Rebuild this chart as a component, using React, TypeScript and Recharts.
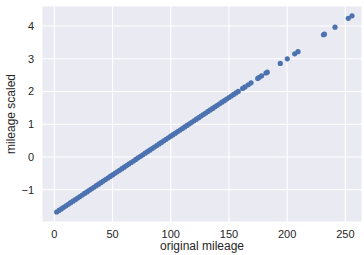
import React from 'react';
import { ScatterChart, Scatter, XAxis, YAxis, CartesianGrid } from 'recharts';

const originalMileage = [
  2, 4, 6, 8, 10, 12, 14, 16, 18, 20, 22, 24, 26, 28, 30, 32, 34, 36, 38, 40,
  42, 44, 46, 48, 50, 52, 54, 56, 58, 60, 62, 64, 66, 68, 70, 72, 74, 76, 78, 80,
  82, 84, 86, 88, 90, 92, 94, 96, 98, 100, 102, 104, 106, 108, 110, 112, 114, 116, 118, 120,
  122, 124, 126, 128, 130, 132, 134, 136, 138, 140, 142, 144, 146, 148, 150, 152, 154, 156, 158,
  161.8, 163.8, 166.6, 169.0, 174.7, 176.1, 178.1, 181.8, 182.9, 194.1, 200.1, 206.5, 209.3,
  231.2, 232.0, 241.1, 252.5, 255.7,
];

const scaledMileage = [
  -1.680, -1.633, -1.585, -1.538, -1.491, -1.444, -1.396, -1.349, -1.302, -1.255,
  -1.208, -1.160, -1.113, -1.066, -1.019, -0.971, -0.924, -0.877, -0.830, -0.783,
  -0.735, -0.688, -0.641, -0.594, -0.547, -0.499, -0.452, -0.405, -0.358, -0.310,
  -0.263, -0.216, -0.169, -0.122, -0.074, -0.027, 0.020, 0.067, 0.115, 0.162,
  0.209, 0.256, 0.303, 0.351, 0.398, 0.445, 0.492, 0.540, 0.587, 0.634,
  0.681, 0.728, 0.776, 0.823, 0.870, 0.917, 0.965, 1.012, 1.059, 1.106,
  1.153, 1.201, 1.248, 1.295, 1.342, 1.390, 1.437, 1.484, 1.531, 1.578,
  1.626, 1.673, 1.720, 1.767, 1.815, 1.862, 1.909, 1.956, 2.003,
  2.093, 2.140, 2.206, 2.263, 2.398, 2.431, 2.478, 2.565, 2.591, 2.856, 2.997, 3.149, 3.215,
  3.732, 3.751, 3.965, 4.235, 4.310,
];

const xTicks = [0, 50, 100, 150, 200, 250];
const yTicks = [-1, 0, 1, 2, 3, 4];
const xLabel = 'original mileage';
const yLabel = 'mileage scaled';

const data = originalMileage.map((x, i) => ({ x, y: scaledMileage[i] }));

const FONT = '"Liberation Sans", Arial, sans-serif';
const TEXT = '#262626';

const fmt = (v: number) => String(v).replace('-', '\u2212');

const Dot = (props: any) => {
  const { cx, cy } = props;
  return <circle cx={cx} cy={cy} r={2.6} fill="#4C72B0" />;
};

export default function App() {
  return (
    <div style={{ position: 'absolute', left: 0, top: 0, width: 364, height: 255 }}>
      <ScatterChart
        width={364}
        height={255}
        margin={{ top: 6, right: 2, bottom: 0, left: 0 }}
        style={{ fontFamily: FONT }}
      >
        <CartesianGrid
          fill="#EAEAF2"
          fillOpacity={1}
          stroke="#FFFFFF"
          strokeWidth={1.1}
        />
        <XAxis
          type="number"
          dataKey="x"
          domain={[-10.6, 264.3]}
          ticks={xTicks}
          allowDataOverflow
          axisLine={false}
          tickLine={false}
          height={33}
          tick={{ fill: TEXT, fontSize: 11, fontFamily: FONT }}
          tickFormatter={fmt}
          label={{
            content: (p: any) => {
              const vb = p.viewBox;
              return (
                <text
                  x={vb.x + vb.width / 2}
                  y={vb.y + 24}
                  textAnchor="middle"
                  dominantBaseline="central"
                  fill={TEXT}
                  fontSize={12}
                  fontFamily={FONT}
                >
                  {xLabel}
                </text>
              );
            },
          }}
        />
        <YAxis
          type="number"
          dataKey="y"
          domain={[-1.985, 4.61]}
          ticks={yTicks}
          allowDataOverflow
          axisLine={false}
          tickLine={false}
          width={42}
          tick={{ fill: TEXT, fontSize: 11, fontFamily: FONT }}
          tickFormatter={fmt}
          label={{
            content: (p: any) => {
              const vb = p.viewBox;
              const cx = vb.x + 11;
              const cy = vb.y + vb.height / 2;
              return (
                <text
                  x={cx}
                  y={cy}
                  transform={`rotate(-90, ${cx}, ${cy})`}
                  textAnchor="middle"
                  dominantBaseline="central"
                  fill={TEXT}
                  fontSize={12}
                  fontFamily={FONT}
                >
                  {yLabel}
                </text>
              );
            },
          }}
        />
        <Scatter data={data} shape={Dot} isAnimationActive={false} />
      </ScatterChart>
    </div>
  );
}
